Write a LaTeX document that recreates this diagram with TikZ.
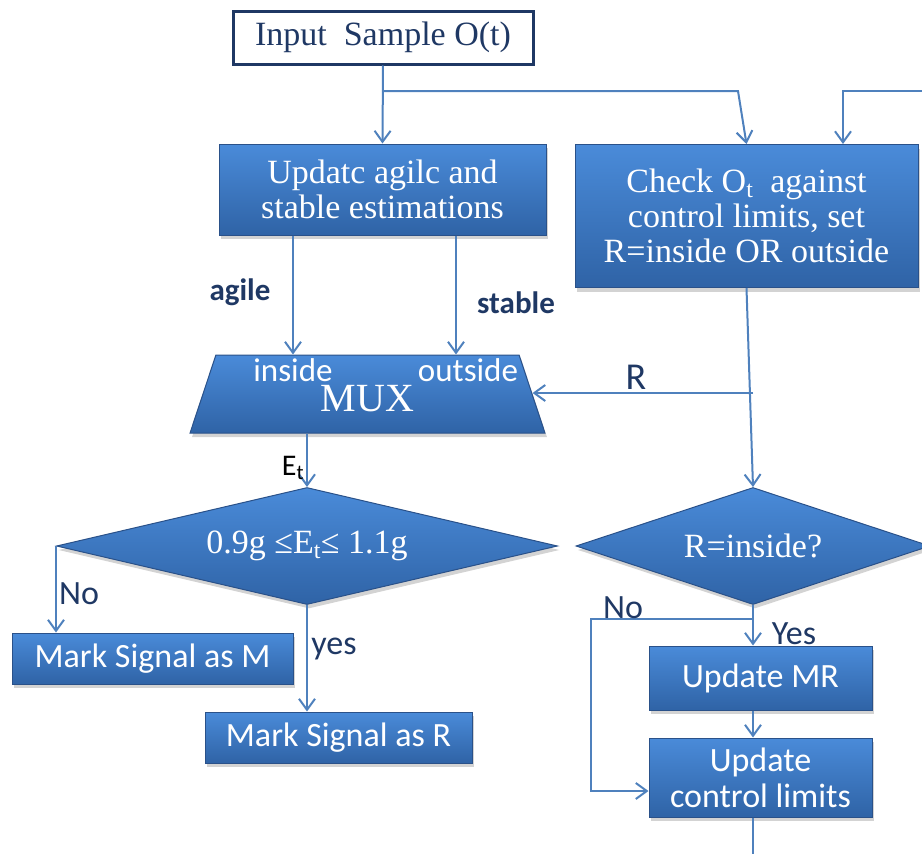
\documentclass[tikz,border=0pt]{standalone}
\usepackage{fontspec}
\setmainfont{Liberation Serif}
\newfontfamily\calib{Carlito}
\usetikzlibrary{arrows.meta,shapes.geometric,shadows}
\definecolor{boxtop}{HTML}{4A8BD9}
\definecolor{boxbot}{HTML}{2F63A6}
\definecolor{boxline}{HTML}{2A5189}
\definecolor{flowblue}{HTML}{4F81BD}
\definecolor{navy}{HTML}{1F3864}
\begin{document}
\begin{tikzpicture}[x=1pt,y=-1pt,
	block/.style={rectangle,draw=boxline,line width=1pt,top color=boxtop,bottom color=boxbot,text=white,align=center,inner sep=0pt,
		drop shadow={shadow xshift=2pt,shadow yshift=-4pt,opacity=0.35}},
	serifbox/.style={block,font=\fontsize{34}{35}\selectfont},
	sansbox/.style={block,font=\calib\fontsize{34}{36}\selectfont},
	decision/.style={diamond,draw=boxline,line width=1pt,top color=boxtop,bottom color=boxbot,text=white,inner sep=0pt,
		font=\fontsize{34}{35}\selectfont,drop shadow={shadow xshift=2pt,shadow yshift=-4pt,opacity=0.35}},
	flow/.style={draw=flowblue,line width=2pt,-{Straight Barb[length=11pt,width=16pt,line width=2pt]}},
	plain/.style={draw=flowblue,line width=2pt},
	lbl/.style={text=navy,font=\calib\fontsize{34}{36}\selectfont,inner sep=0pt},
	boldlbl/.style={text=navy,font=\calib\bfseries\fontsize{31}{34}\selectfont,inner sep=0pt}]

	\useasboundingbox (0,0) rectangle (922,854);

	\node[draw=navy,line width=3pt,fill=white,text=navy,font=\fontsize{34}{35}\selectfont,minimum width=300pt,minimum height=53pt,inner sep=0pt] (input) at (383,37.5) {Input\ \ Sample O(t)};
	\node[serifbox,minimum width=327pt,minimum height=91pt] (update) at (382.5,189.5) {Updatc agilc and\\stable estimations};
	\node[serifbox,minimum width=343pt,minimum height=143pt] (check) at (746.5,216) {Check O\textsubscript{t}\ \ against\\control limits, set\\R=inside OR outside};
	\node[trapezium,trapezium stretches=true,trapezium angle=75,draw=boxline,line width=1pt,top color=boxtop,bottom color=boxbot,
		text=white,font=\fontsize{40}{40}\selectfont,minimum width=355pt,minimum height=78pt,inner sep=2pt,
		drop shadow={shadow xshift=2pt,shadow yshift=-4pt,opacity=0.35}] (mux) at (367.5,394) {\raisebox{-4pt}[27pt][0pt]{MUX}};
	\node[text=white,font=\calib\fontsize{33}{34}\selectfont] (muxin) at (293,370) {inside};
	\node[text=white,font=\calib\fontsize{33}{34}\selectfont] (muxout) at (468,370) {outside};

	\node[decision,aspect=4.3,minimum width=501pt,minimum height=117pt] (cond) at (307,546) {0.9g ≤E\textsubscript{t}≤ 1.1g};
	\node[decision,aspect=3,minimum width=354pt,minimum height=117pt] (rin) at (753,546) {R=inside?};
	\node[sansbox,minimum width=281pt,minimum height=51pt] (markm) at (152.5,658.5) {Mark Signal as M};
	\node[sansbox,minimum width=267pt,minimum height=51pt] (markr) at (338.5,737.5) {Mark Signal as R};
	\node[sansbox,minimum width=223pt,minimum height=64pt] (umr) at (760.5,678) {Update MR};
	\node[sansbox,minimum width=223pt,minimum height=79pt] (ucl) at (760.5,777.5) {Update\\control limits};

	% input split
	\coordinate (split) at (383,91);
	\coordinate (bend) at (738,91);
	\coordinate (fbin) at (922,91);
	\coordinate (fbturn) at (843,91);
	\draw[flow] (input.south) -- (update.north);
	\draw[flow] (split) -- (bend) -- (check.north);
	\draw[flow] (fbin) -- (fbturn) -- (fbturn |- check.north);

	% estimations into the mux
	\coordinate (agilex) at (293,0);
	\coordinate (stablex) at (456,0);
	\draw[flow] (update.south -| agilex) -- (mux.north -| agilex);
	\draw[flow] (update.south -| stablex) -- (mux.north -| stablex);
	\node[boldlbl] (agilelbl) at (240,292) {agile};
	\node[boldlbl] (stablelbl) at (516,303) {stable};

	% R select
	\coordinate (rtap) at (753,393);
	\draw[flow] (check.south) -- (rin.north);
	\draw[flow] (rtap) -- (mux.east |- rtap);
	\node[lbl,font=\calib\fontsize{38}{40}\selectfont] (rlbl) at (636,377) {R};

	\draw[flow] (cond.north |- mux.south) -- (cond.north);
	\node[text=black,font=\calib\fontsize{30}{32}\selectfont,inner sep=0pt] (etlbl) at (293,468) {E\textsubscript{t}};

	% left decision
	\draw[flow] (cond.west) -- (cond.west |- markm.north);
	\draw[flow] (cond.south) -- (cond.south |- markr.north);
	\node[lbl] (nol) at (79,594) {No};
	\node[lbl] (yesl) at (334,649) {yes};

	% right decision
	\coordinate (nosplit) at (753,619);
	\coordinate (noleft) at (591,619);
	\coordinate (nolow) at (591,791);
	\coordinate (exitpt) at (753,854);
	\draw[flow] (rin.south) -- (rin.south |- umr.north);
	\draw[flow] (rin.south |- umr.south) -- (rin.south |- ucl.north);
	\draw[flow] (nosplit) -- (noleft) -- (nolow) -- (nolow -| ucl.west);
	\draw[plain] (rin.south |- ucl.south) -- (exitpt);
	\node[lbl] (nor) at (623,608) {No};
	\node[lbl] (yesr) at (794,634) {Yes};

\end{tikzpicture}
\end{document}
